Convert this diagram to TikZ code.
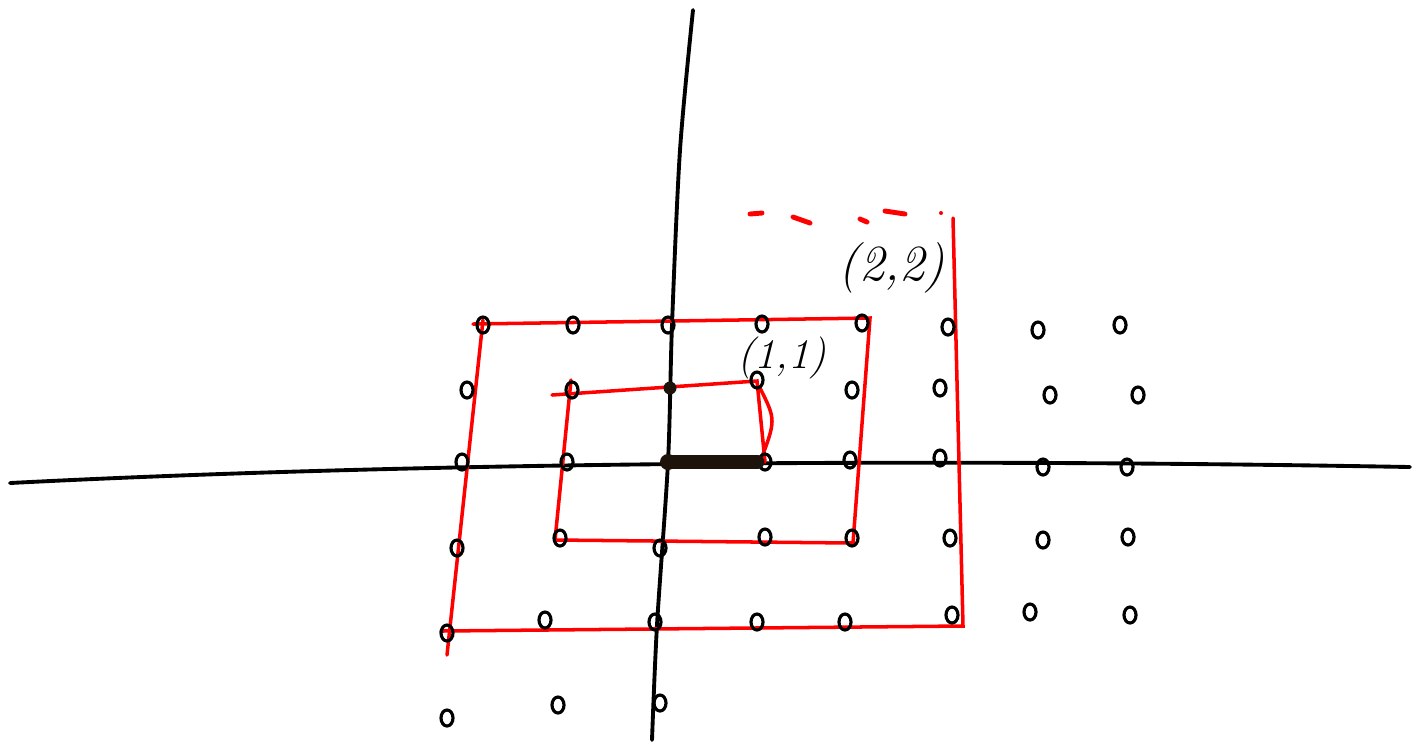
\documentclass[tikz,border=0pt]{standalone}
\usetikzlibrary{shapes.geometric}
\begin{document}
\begin{tikzpicture}[x=0.01cm,y=-0.01cm,
  pt/.style={draw, ellipse, line width=0.9pt, minimum width=0.12cm, minimum height=0.16cm, inner sep=0pt},
  fpt/.style={fill=black!85!brown, circle, minimum size=0.13cm, inner sep=0pt},
  spiral/.style={draw=red, line width=1pt, line cap=round},
  axis/.style={draw=black, line width=1.1pt, line cap=round},
  lbl/.style={font=\itshape\Large, inner sep=0pt}]
\useasboundingbox (0,0) rectangle (1415,741);
\fill[white] (0,0) rectangle (1415,741);
% axes
\coordinate (xl) at (10,483);
\coordinate (xr) at (1410,467);
\coordinate (yt) at (693,10);
\coordinate (yb) at (652,740);
\draw[axis] (xl) .. controls (400,463) and (900,458) .. (xr);
\draw[axis] plot[smooth] coordinates {(yt) (680,150) (672,325) (668,462) (657,625) (yb)};
% red spiral
\coordinate (k1) at (765,462);
\coordinate (k2) at (757,381);
\coordinate (k3) at (552,395);
\coordinate (k4) at (571,380);
\coordinate (k5) at (555,540);
\coordinate (k6) at (853,543);
\coordinate (k7) at (870,318);
\coordinate (k8) at (473,324);
\coordinate (k9) at (483,320);
\coordinate (k10) at (447,655);
\coordinate (k11) at (441,631);
\coordinate (k12) at (963,626);
\coordinate (k13) at (953,218);
\draw[spiral] (k1) -- (k2) -- (k3);
\draw[spiral] (760,462) .. controls (776,420) .. (760,388);
\draw[spiral] (k4) -- (k5) -- (k6) -- (k7) -- (k8);
\draw[spiral] (k9) -- (k10);
\draw[spiral] (k11) -- (k12) -- (k13);
% dashed top of the next ring
\coordinate (t1) at (750,214); \coordinate (t2) at (762,213);
\coordinate (t3) at (793,217); \coordinate (t4) at (810,223);
\coordinate (t5) at (860,219); \coordinate (t6) at (867,222);
\coordinate (t7) at (885,211); \coordinate (t8) at (905,214);
\coordinate (t9) at (941,213);
\draw[spiral, line width=1.4pt] (t1) -- (t2);
\draw[spiral, line width=1.4pt] (t3) -- (t4);
\draw[spiral, line width=1.4pt] (t5) -- (t6);
\draw[spiral, line width=1.4pt] (t7) -- (t8);
\fill[red] (t9) circle (2);
% points
\foreach \n/\x/\y in {
 a1/483/325, a2/573/325, a3/668/325, a4/762/324, a5/862/323, a6/948/327, a7/1038/330, a8/1120/325,
 b1/467/390, b2/572/390, b4/757/380, b5/852/390, b6/940/388, b7/1050/395, b8/1138/395,
 c1/462/462, c2/567/462, c4/765/462, c5/850/460, c6/940/458, c7/1043/467, c8/1127/467,
 d1/457/548, d2/560/538, d3/660/548, d4/765/537, d5/852/538, d6/950/538, d7/1043/540, d8/1128/537,
 e1/447/633, e2/545/620, e3/655/622, e4/757/622, e5/845/622, e6/952/615, e7/1030/612, e8/1130/615,
 f1/447/718, f2/558/705, f3/660/703}
 \node[pt] (\n) at (\x,\y) {};
\node[fpt] (b3) at (670,388) {};
\node[fpt, minimum size=0.16cm] (c3) at (668,462) {};
\draw[line width=4pt, black!85!brown, line cap=round] (c3.center) -- (c4.west);
% labels
\node[lbl, font=\itshape\large] (l11) at (782,358) {(1,1)};
\node[lbl] (l22) at (892,268) {(2,2)};
\end{tikzpicture}
\end{document}
